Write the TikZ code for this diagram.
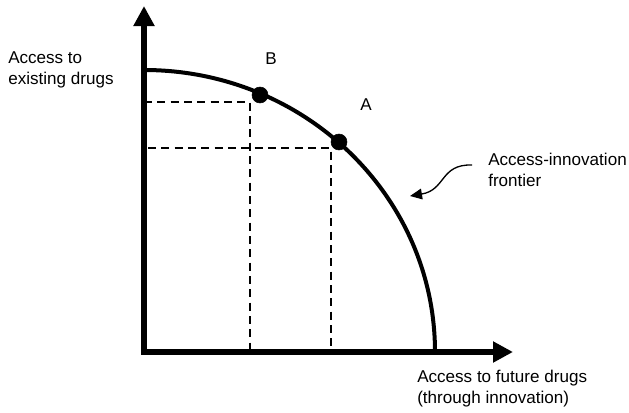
\documentclass[tikz,border=0pt]{standalone}
\usepackage{fontspec}
\setmainfont{Liberation Sans}
\usepackage{tikz}
\usetikzlibrary{
    arrows.meta,
    positioning,
    calc
}
\tikzset{
  axis/.style    = {line width=4.2pt, line join=miter,
                    {Triangle[length=15pt, width=15pt]}-{Triangle[length=15pt, width=15pt]}},
  frontier/.style= {line width=3pt},
  guide/.style   = {dashed, line width=1pt, dash pattern=on 6pt off 4pt},
  dot/.style     = {circle, fill=black, draw=black, minimum size=12pt, inner sep=0pt},
  lbl/.style     = {align=left, inner sep=0pt, font=\fontsize{12.8}{15.8}\selectfont},
  pt/.style      = {inner sep=0pt, font=\fontsize{12.8}{15.8}\selectfont},
  curly/.style   = {-{Triangle[length=9pt, width=8pt]}, line width=1pt}
}

\begin{document}
\begin{tikzpicture}[x=0.75pt, y=0.75pt]
    \useasboundingbox (0,0) rectangle (629,412);

    \coordinate (O) at (144,60);
    \coordinate (ytip) at (144,406);
    \coordinate (xtip) at (513,60);

    \draw[axis] (ytip) -- (O) -- (xtip);
    \draw[frontier] (144,342) arc[start angle=90, end angle=0, x radius=291, y radius=282];

    \draw[guide] (O |- 0,310) -- (250,310) -- (250,60);
    \draw[guide] (148,264) -- (331,264) -- (331,60);

    \node[dot] (B) at (260,317) {};
    \node[dot] (A) at (339,270) {};
    \node[pt] (lB) at (271,353) {B};
    \node[pt] (lA) at (366,307) {A};

    \node[lbl, anchor=west] (ylbl) at (8,342.5) {Access to\\existing drugs};
    \node[lbl, anchor=west] (xlbl) at (417,23) {Access to future drugs\\(through innovation)};
    \node[lbl, anchor=west] (flbl) at (488,242) {Access-innovation\\frontier};

    \coordinate (fstart) at (472,247);
    \coordinate (ftip) at (410,216);
    \draw[curly] (fstart) .. controls (440,248) and (446,222) .. (ftip);
\end{tikzpicture}
\end{document}
